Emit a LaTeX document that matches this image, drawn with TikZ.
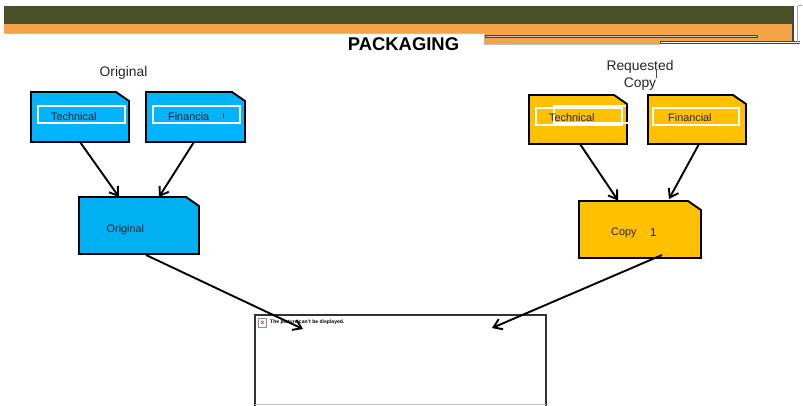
\documentclass[tikz,border=0pt]{standalone}
\usepackage{fontspec}
\setmainfont{Liberation Sans}
\usetikzlibrary{arrows.meta}
\definecolor{olivebar}{HTML}{4A5026}
\definecolor{orangebar}{HTML}{F4A347}
\definecolor{blueFill}{HTML}{00B4FF}
\definecolor{blueFillB}{HTML}{00B0F0}
\definecolor{goldFill}{HTML}{FFC000}
\definecolor{greyline}{HTML}{444444}
\tikzset{
  x=1bp,y=-1bp,
  chamfer/.style={draw=black,line width=1.9bp,line join=miter},
  innerbox/.style={draw=white,line width=1.4bp},
  lbl/.style={font=\fontsize{10.9}{12}\selectfont,text=black!85,inner sep=0pt,anchor=west},
  captext/.style={font=\fontsize{13.9}{16}\selectfont,text=black!85,inner sep=0pt,align=center},
  conn/.style={draw=black,line width=1.9bp,-{Straight Barb[length=8bp,width=11bp,line width=1.9bp]}},
  hair/.style={draw=greyline,line width=1bp},
}
\newcommand{\chamf}[6]{% name,x0,y0,x1,y1,fill
  \fill[#6] (#2,#3) -- ({#4-13},#3) -- (#4,{#3+9}) -- (#4,#5) -- (#2,#5) -- cycle;
  \draw[chamfer] (#2,#3) -- ({#4-13},#3) -- (#4,{#3+9}) -- (#4,#5) -- (#2,#5) -- cycle;
}
\begin{document}
\begin{tikzpicture}
\useasboundingbox (0,0) rectangle (803,405);
% header
\fill[olivebar] (4,6) rectangle (792,24);
\fill[orangebar] (4,24) rectangle (792,33);
\fill[white] (440,33) rectangle (484,44);
\fill[orangebar] (484,33) rectangle (660,43.5);
\fill[orangebar] (660,33) rectangle (792,41);
\draw[draw=black!25,line width=.6bp] (4,33.3) -- (484,33.3) -- (484,44) -- (660,44);
\draw[hair,fill=black!25,line width=.9bp] (485,35.5) rectangle (757,37.5);
\draw[hair,line width=.9bp] (660,43.7) -- (660,41.7) -- (800,41.7);
\draw[hair,line width=.9bp] (660,43.7) -- (800,43.7);
\draw[hair,line width=1.1bp] (793,6) -- (793,42);
\draw[draw=black!35,line width=.5bp] (797.5,6) -- (797.5,42);
\draw[draw=black!35,line width=.5bp] (797.5,5.5) -- (802,5.5);
\node[inner sep=0pt,font=\fontsize{18.5}{20}\bfseries\selectfont] (title) at (403.5,44.5) {PACKAGING};
% captions
\node[captext] (capO) at (123.5,72.5) {Original};
\node[captext] (capR) at (640,75.5) {Requested\\[1bp]Copy};
\draw[draw=black!70,line width=.6bp] (656,69) -- (656,78);
% blue
\chamf{bt}{31}{92}{129}{142}{blueFill}
\draw[innerbox] (38,106) rectangle (125,123);
\node[lbl] (techB) at (51,116.5) {Technical};
\chamf{bf}{146}{92}{245}{142}{blueFill}
\draw[innerbox] (153,106) rectangle (240,123);
\node[lbl] (finB) at (168,116.5) {Financia};
\draw[draw=black!70,line width=.5bp] (223,113) -- (223,118);
\chamf{bo}{79}{197}{199}{254}{blueFillB}
\node[lbl] (origB) at (106.5,229.5) {Original};
% gold
\chamf{gt}{529}{95}{627}{144}{goldFill}
\draw[innerbox] (536,108) rectangle (622,125);
\draw[innerbox] (626,106) -- (554,106) -- (554,123) -- (630,123);
\node[lbl] (techG) at (549,118) {Technical};
\chamf{gf}{648}{95}{746}{144}{goldFill}
\draw[innerbox] (653,108) rectangle (739,125);
\node[lbl] (finG) at (668,118) {Financial};
\chamf{gc}{579}{201}{701}{258}{goldFill}
\node[lbl] (copyG) at (611,232.5) {Copy};
\node[lbl,font=\fontsize{11.5}{12}\selectfont] (oneG) at (650,232.5) {1};
% picture box
\draw[draw=black!80,line width=1.5bp,fill=white] (255,405.5) -- (255,315) -- (546,315) -- (546,405.5);
\draw[draw=black!25,line width=.6bp] (255,404.5) -- (546,404.5);
\draw[draw=black!45,line width=.6bp,fill=white] (258.5,318.5) rectangle (266.5,327.5);
\node[inner sep=0pt,text=red,font=\fontsize{6}{6}\bfseries\selectfont] (xmark) at (262.5,322.5) {x};
\node[inner sep=0pt,anchor=west,font=\fontsize{5.1}{6}\bfseries\selectfont] (msg) at (270,322) {The picture can't be displayed.};
% connectors
\coordinate (a1) at (80,142); \coordinate (a2) at (119,197);
\coordinate (b1) at (194,142); \coordinate (b2) at (159,197);
\coordinate (c1) at (580,144); \coordinate (c2) at (618,200.5);
\coordinate (d1) at (699,144); \coordinate (d2) at (669,199);
\coordinate (e1) at (146,255); \coordinate (e2) at (303,329);
\coordinate (f1) at (662,255); \coordinate (f2) at (492,328);
\foreach \s/\t in {a1/a2,b1/b2,c1/c2,d1/d2,e1/e2,f1/f2}{\draw[conn] (\s) -- (\t);}
\end{tikzpicture}
\end{document}
